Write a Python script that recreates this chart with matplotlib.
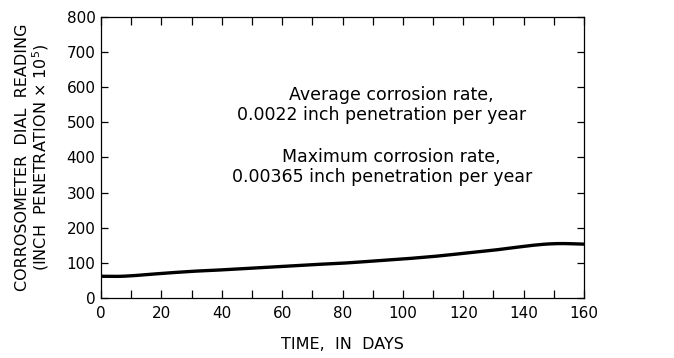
import matplotlib
matplotlib.use("Agg")
import matplotlib.pyplot as plt
import numpy as np
from matplotlib.ticker import MultipleLocator

plt.rcParams['font.family'] = ['DejaVu Sans']

days = [0, 5, 10, 20, 30, 40, 50, 60, 70, 80, 90, 100, 110, 120, 130, 140, 145, 150, 155, 160]
reading = [62, 61, 63, 70, 76, 80, 85, 90, 95, 99, 105, 111, 118, 127, 136, 147, 152, 155, 155, 153]

x_major = [0, 20, 40, 60, 80, 100, 120, 140, 160]
y_major = [0, 100, 200, 300, 400, 500, 600, 700, 800]

fig = plt.figure(figsize=(6.74, 3.58), dpi=100)
ax = fig.add_axes([0.150, 0.1676, 0.7165, 0.785])

# smooth curve through read points
xs = np.linspace(days[0], days[-1], 400)
ys = np.interp(xs, days, reading)
k = 15
kernel = np.ones(k) / k
pad = np.pad(ys, (k // 2, k // 2), mode='edge')
ys_s = np.convolve(pad, kernel, mode='valid')
ax.plot(xs, ys_s, color='black', lw=2.4, solid_capstyle='butt')

ax.set_xlim(0, 160)
ax.set_ylim(0, 800)
ax.set_xticks(x_major)
ax.set_yticks(y_major)
ax.xaxis.set_minor_locator(MultipleLocator(10))
ax.tick_params(axis='both', which='both', direction='in', top=True, right=True,
               labelsize=11, width=0.9)
ax.tick_params(axis='x', which='both', length=6, pad=6)
ax.tick_params(axis='y', which='both', length=5, pad=4)
for s in ax.spines.values():
    s.set_linewidth(0.9)

fs = 12.5
ax.text(96, 578, "Average corrosion rate,", ha='center', va='center', fontsize=fs)
ax.text(93, 521, "0.0022 inch penetration per year", ha='center', va='center', fontsize=fs)
ax.text(96, 402, "Maximum corrosion rate,", ha='center', va='center', fontsize=fs)
ax.text(93, 345, "0.00365 inch penetration per year", ha='center', va='center', fontsize=fs)

ax.set_xlabel("TIME,  IN  DAYS", fontsize=11.5, labelpad=11)
fig.text(0.033, 0.56, "CORROSOMETER  DIAL  READING", rotation=90, ha='center', va='center', fontsize=11.5)
fig.text(0.060, 0.56, "(INCH  PENETRATION $\\times$ 10$^5$)", rotation=90, ha='center', va='center', fontsize=11.5)

fig.savefig("out.png", dpi=100)
